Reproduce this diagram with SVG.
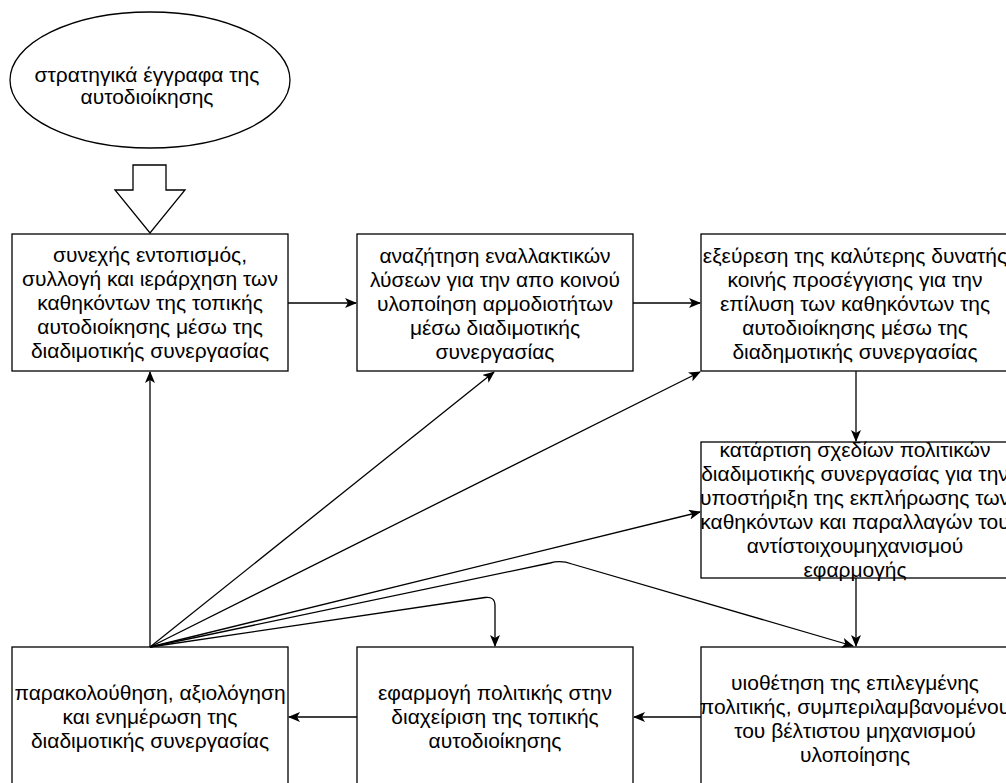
<svg xmlns="http://www.w3.org/2000/svg" width="1006" height="783" viewBox="0 0 1006 783">
<style>
.box{fill:#fff;stroke:#000;stroke-width:1.3}
.t{font-family:"Liberation Sans",Arial,sans-serif;font-size:21px;fill:#000;text-anchor:middle}
.c{fill:none;stroke:#000;stroke-width:1.3}
</style>
<defs>
<marker id="ar" markerUnits="userSpaceOnUse" viewBox="0 0 12 10" refX="11" refY="5" markerWidth="12" markerHeight="10" orient="auto">
<path d="M0,0 L12,5 L0,10 L3,5 z" fill="#000"/>
</marker>
</defs>
<rect width="1006" height="783" fill="#fff"/>
<g id="n-ellipse">
<ellipse class="box" cx="150" cy="80" rx="140" ry="68"/>
<text class="t" x="147" y="82">στρατηγικά έγγραφα της</text>
<text class="t" x="147" y="104">αυτοδιοίκησης</text>
</g>
<g id="n-blockarrow">
<polygon class="box" points="133,165 166,165 166,190 185,190 150,233 115,190 133,190"/>
</g>
<g id="n1">
<rect class="box" x="12" y="234" width="276" height="137"/>
<text class="t" x="150" y="262">συνεχής εντοπισμός,</text>
<text class="t" x="150" y="286">συλλογή και ιεράρχηση των</text>
<text class="t" x="150" y="310">καθηκόντων της τοπικής</text>
<text class="t" x="150" y="334">αυτοδιοίκησης μέσω της</text>
<text class="t" x="150" y="358">διαδιμοτικής συνεργασίας</text>
</g>
<g id="n2">
<rect class="box" x="357" y="234" width="276" height="137"/>
<text class="t" x="495" y="263">αναζήτηση εναλλακτικών</text>
<text class="t" x="495" y="287">λύσεων για την απο κοινού</text>
<text class="t" x="495" y="311">υλοποίηση αρμοδιοτήτων</text>
<text class="t" x="495" y="335">μέσω διαδιμοτικής</text>
<text class="t" x="495" y="359">συνεργασίας</text>
</g>
<g id="n3">
<rect class="box" x="701" y="234" width="312" height="137"/>
<text class="t" x="855" y="263">εξεύρεση της καλύτερης δυνατής</text>
<text class="t" x="855" y="287">κοινής προσέγγισης για την</text>
<text class="t" x="855" y="311">επίλυση των καθηκόντων της</text>
<text class="t" x="855" y="335">αυτοδιοίκησης μέσω της</text>
<text class="t" x="855" y="359">διαδημοτικής συνεργασίας</text>
</g>
<g id="n4">
<rect class="box" x="701" y="442" width="312" height="136"/>
<text class="t" x="855" y="457">κατάρτιση σχεδίων πολιτικών</text>
<text class="t" x="855" y="481">διαδιμοτικής συνεργασίας για την</text>
<text class="t" x="855" y="505">υποστήριξη της εκπλήρωσης των</text>
<text class="t" x="855" y="529">καθηκόντων και παραλλαγών του</text>
<text class="t" x="855" y="553">αντίστοιχουμηχανισμού</text>
<text class="t" x="855" y="577">εφαρμογής</text>
</g>
<g id="n5">
<rect class="box" x="701" y="647" width="312" height="150"/>
<text class="t" x="855" y="690">υιοθέτηση της επιλεγμένης</text>
<text class="t" x="855" y="714">πολιτικής, συμπεριλαμβανομένου</text>
<text class="t" x="855" y="738">του βέλτιστου μηχανισμού</text>
<text class="t" x="855" y="762">υλοποίησης</text>
</g>
<g id="n6">
<rect class="box" x="357" y="647" width="276" height="150"/>
<text class="t" x="495" y="700">εφαρμογή πολιτικής στην</text>
<text class="t" x="495" y="724">διαχείριση της τοπικής</text>
<text class="t" x="495" y="748">αυτοδιοίκησης</text>
</g>
<g id="n7">
<rect class="box" x="12" y="647" width="276" height="150"/>
<text class="t" x="150" y="700">παρακολούθηση, αξιολόγηση</text>
<text class="t" x="150" y="724">και ενημέρωση της</text>
<text class="t" x="150" y="748">διαδιμοτικής συνεργασίας</text>
</g>
<g id="connectors">
<path class="c" d="M288 303 L356 303" marker-end="url(#ar)"/>
<path class="c" d="M633 303 L700 303" marker-end="url(#ar)"/>
<path class="c" d="M856 371 L856 441" marker-end="url(#ar)"/>
<path class="c" d="M856 578 L856 646" marker-end="url(#ar)"/>
<path class="c" d="M701 717 L634 717" marker-end="url(#ar)"/>
<path class="c" d="M357 717 L289 717" marker-end="url(#ar)"/>
<path class="c" d="M150 647 L150 372" marker-end="url(#ar)"/>
<path class="c" d="M150 647 L494 372" marker-end="url(#ar)"/>
<path class="c" d="M150 647 L700 372" marker-end="url(#ar)"/>
<path class="c" d="M150 647 L700 512" marker-end="url(#ar)"/>
<path class="c" d="M150 647 L550 563 Q561 560 572 564 L853 646" marker-end="url(#ar)"/>
<path class="c" d="M150 647 L485 597.5 Q495 596 495 606 L495 646" marker-end="url(#ar)"/>
</g>
</svg>
